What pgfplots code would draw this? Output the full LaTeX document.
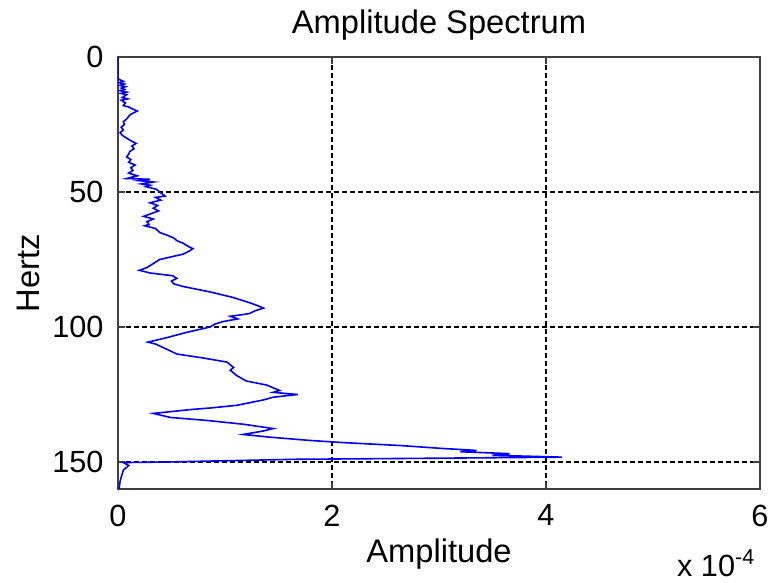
\documentclass[border=0pt]{standalone}
\usepackage{fontspec}
\setmainfont{Liberation Sans}
\usepackage{pgfplots}
\pgfplotsset{compat=1.18}

\begin{document}
\fontsize{23}{26}\selectfont
\begin{tikzpicture}
\begin{axis}[
    name=ax,
    scale only axis,
    width=481.5pt, height=324pt,
    xmin=0, xmax=6, ymin=0, ymax=160,
    y dir=reverse,
    xtick={0,2,4,6}, ytick={0,50,100,150},
    grid=major,
    major grid style={black, dash pattern=on 3.5pt off 2.5pt, line width=0.8pt},
    axis line style={black!75, line width=1pt},
    tick style={black!75, line width=0.8pt},
    tick align=inside,
    major tick length=5pt,
    /pgf/number format/assume math mode=true,
    ticklabel style={font=\fontsize{23}{26}\selectfont},
    xticklabel style={yshift=-4pt},
    yticklabel style={xshift=-3pt},
    title={Amplitude Spectrum},
    every axis title/.style={at={(axis description cs:0.5,1)}, anchor=center, yshift=24pt, font=\fontsize{24.5}{27}\selectfont},
    xlabel={Amplitude},
    ylabel={Hertz},
    every axis x label/.style={at={(axis description cs:0.5,0)}, anchor=center, yshift=-48.5pt, font=\fontsize{24.5}{27}\selectfont},
    every axis y label/.style={at={(axis description cs:-0.14,0.5)}, anchor=center, rotate=90, font=\fontsize{24.5}{27}\selectfont},
]
\addplot[color={rgb,255:red,0;green,0;blue,255}, line width=1.2pt] coordinates {
(0,0) (0,8) (0.02,8.5) (0.05,9) (0.01,9.5) (0.06,10) (0.02,10.5) (0.07,11) (0.03,11.5) (0.06,12) (0.02,12.5)
(0.08,13) (0.03,13.5) (0.08,14) (0.04,15) (0.09,15.5) (0.03,16) (0.07,17) (0.05,18) (0.1,18.5) (0.14,19.3)
(0.18,20) (0.15,20.6) (0.12,21.2) (0.1,22) (0.08,23) (0.05,24) (0.06,25) (0.03,26) (0.05,27)
(0.02,28) (0.04,29) (0.08,30) (0.12,31) (0.17,32) (0.13,33) (0.15,34) (0.11,35) (0.1,36)
(0.08,37) (0.12,38) (0.1,39) (0.16,40) (0.12,41) (0.14,42) (0.1,43) (0.18,44) (0.08,45)
(0.3,45.3) (0.2,45.8) (0.33,46.3) (0.22,47) (0.3,47.5) (0.26,48) (0.36,49) (0.39,50) (0.44,51.5)
(0.35,52) (0.4,53) (0.3,54) (0.37,55) (0.33,56) (0.38,57) (0.31,58) (0.24,59) (0.33,60) (0.27,61)
(0.29,62) (0.25,62.5) (0.35,63.5) (0.39,65) (0.46,66) (0.52,67) (0.55,68) (0.61,69) (0.65,70)
(0.7,71) (0.66,72) (0.61,73) (0.5,74) (0.39,75) (0.33,76.5) (0.27,78) (0.2,79) (0.3,80) (0.51,81)
(0.55,82) (0.5,83) (0.52,84) (0.61,85) (0.86,87) (1.07,89) (1.23,91) (1.3,92) (1.36,93) (1.28,94)
(1.23,95) (1.15,95.5) (1.05,96) (1.12,97) (0.98,98) (0.9,99) (0.86,100) (0.64,102) (0.45,104)
(0.28,105.6) (0.35,106.3) (0.39,107) (0.47,108.5) (0.55,110) (0.8,111.5) (1.02,113) (1.08,115)
(1.05,116) (1.11,118) (1.2,120) (1.39,121.5) (1.51,123.5) (1.45,124.2) (1.68,125) (1.45,126)
(1.36,127) (1.11,129) (0.86,130) (0.7,130.5) (0.33,132) (0.49,133.5) (0.83,134.6) (1.17,136)
(1.45,137.6) (1.36,138.5) (1.17,139.8) (1.42,140.8) (1.79,142) (2.1,142.8) (2.64,143.9) (3.04,145)
(3.35,145.7) (3.2,146.2) (3.66,146.9) (3.5,147.5) (4.15,148.2) (2.94,148.6) (1.65,149) (0.45,150)
(0.05,150.2) (0.1,151.3) (0.05,153) (0.02,157) (0.01,160)
};
\end{axis}
\node[anchor=center] at ([xshift=-33pt, yshift=-56pt]ax.south east) {x 10\textsuperscript{-4}};
\pgfresetboundingbox
\path[use as bounding box] ([xshift=-88.5pt, yshift=-69.75pt]ax.south west) rectangle ([xshift=9pt, yshift=42.75pt]ax.north east);
\end{tikzpicture}
\end{document}
